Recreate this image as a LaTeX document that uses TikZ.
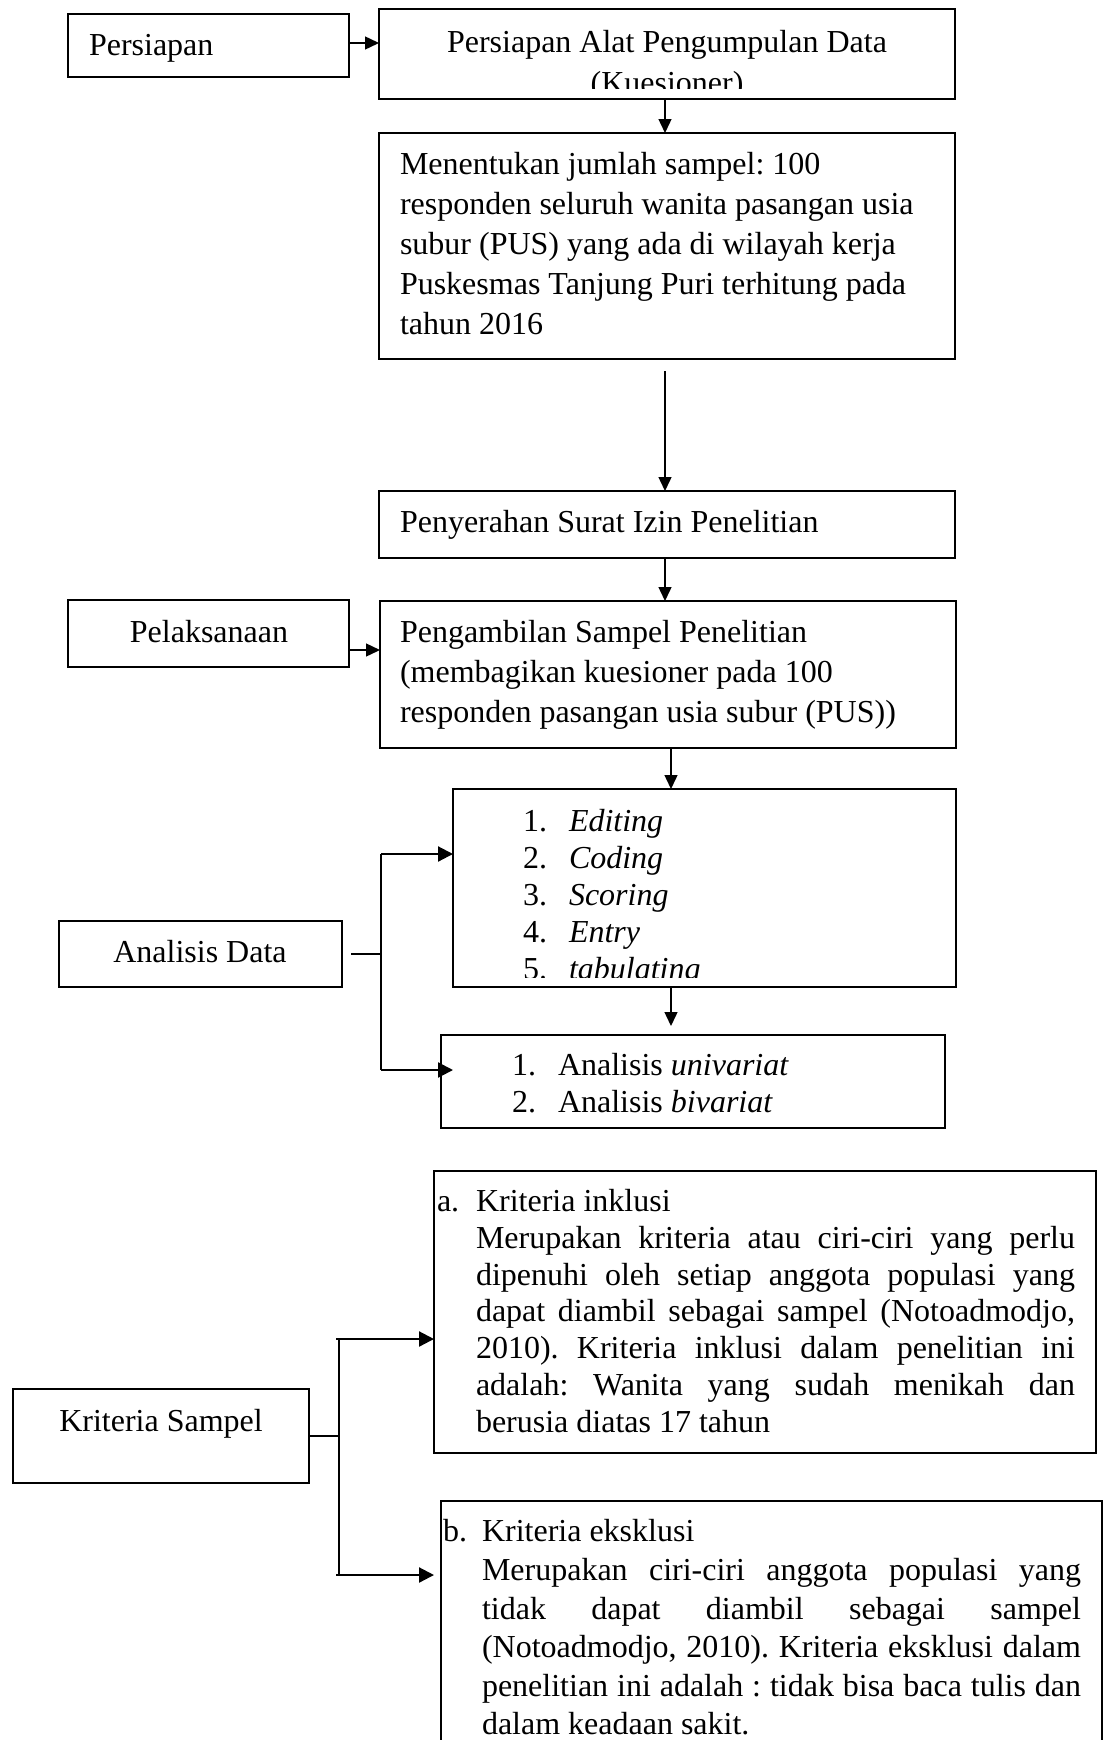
\documentclass[tikz,border=0pt]{standalone}
\usepackage{fontspec}
\setmainfont{Liberation Serif}
\usetikzlibrary{arrows.meta}
\frenchspacing
\tikzset{
 box/.style={draw, line width=0.65pt, inner sep=0pt, outer sep=0pt, anchor=north west},
 txt/.style={inner sep=0pt, outer sep=0pt, anchor=base west},
 ctxt/.style={inner sep=0pt, outer sep=0pt, anchor=base},
 conn/.style={line width=0.7pt},
 arr/.style={conn, -{Triangle[length=7pt,width=6.5pt]}},
 tarr/.style={line width=1.1pt, -{Triangle[length=7.5pt,width=7.5pt]}},
}
\newcommand{\bx}[5]{\node[box, minimum width={(#4-#2)*0.5pt}, minimum height={(#5-#3)*0.5pt}] (#1) at (#2,#3) {};}
\newcommand{\jline}[1]{\makebox[299.5pt][s]{#1}}
\begin{document}
\begin{tikzpicture}[x=0.5pt, y=-0.5pt, font=\fontsize{16}{20}\selectfont\frenchspacing]
\clip (0,0) rectangle (1108,1740);
\fill[white] (0,0) rectangle (1108,1740);

% boxes
\bx{pers}{68}{14}{349}{77}
\bx{alat}{379}{9}{955}{99}
\bx{men}{379}{133}{955}{359}
\bx{pen}{379}{491}{955}{558}
\bx{pel}{68}{600}{349}{667}
\bx{peng}{380}{601}{956}{748}
\bx{edit}{453}{789}{956}{987}
\bx{ad}{59}{921}{342}{987}
\bx{univ}{441}{1035}{945}{1128}
\bx{ks}{13}{1389}{309}{1483}
\bx{inkl}{434}{1171}{1096}{1453}
\bx{eks}{441}{1501}{1102}{1770}

% texts
\node[txt] (tpers) at (89,55) {Persiapan};
\begin{scope}
\clip (379,9) rectangle (955,88);
\node[ctxt] (talat1) at (667,52) {Persiapan Alat Pengumpulan Data};
\node[ctxt] (talat2) at (667,93) {(Kuesioner)};
\end{scope}

\node[txt] (tmen1) at (400,174) {Menentukan jumlah sampel: 100};
\node[txt] (tmen2) at (400,214) {responden seluruh wanita pasangan usia};
\node[txt] (tmen3) at (400,254) {subur (PUS) yang ada di wilayah kerja};
\node[txt] (tmen4) at (400,294) {Puskesmas Tanjung Puri terhitung pada};
\node[txt] (tmen5) at (400,334) {tahun 2016};

\node[txt] (tpen) at (400,532) {Penyerahan Surat Izin Penelitian};

\node[ctxt] (tpel) at (209,642) {Pelaksanaan};
\node[txt] (tpeng1) at (400,642) {Pengambilan Sampel Penelitian};
\node[txt] (tpeng2) at (400,682) {(membagikan kuesioner pada 100};
\node[txt] (tpeng3) at (400,722) {responden pasangan usia subur (PUS))};

\begin{scope}
\clip (453,789) rectangle (956,977);
\node[txt] (n1) at (523,831) {1.};
\node[txt] (e1) at (569,831) {\textit{Editing}};
\node[txt] (n2) at (523,868) {2.};
\node[txt] (e2) at (569,868) {\textit{Coding}};
\node[txt] (n3) at (523,905) {3.};
\node[txt] (e3) at (569,905) {\textit{Scoring}};
\node[txt] (n4) at (523,942) {4.};
\node[txt] (e4) at (569,942) {\textit{Entry}};
\node[txt] (n5) at (523,979) {5.};
\node[txt] (e5) at (569,979) {\textit{tabulating}};
\end{scope}

\node[ctxt] (tad) at (200,962) {Analisis Data};
\node[txt] (u1) at (512,1075) {1.};
\node[txt] (v1) at (558,1075) {Analisis \textit{univariat}};
\node[txt] (u2) at (512,1112) {2.};
\node[txt] (v2) at (558,1112) {Analisis \textit{bivariat}};

\node[ctxt] (tks) at (161,1431) {Kriteria Sampel};

\node[txt] (ia) at (437,1211) {a.};
\node[txt] (i1) at (476,1211) {Kriteria inklusi};
\node[txt] (i2) at (476,1248) {\jline{Merupakan kriteria atau ciri-ciri yang perlu}};
\node[txt] (i3) at (476,1285) {\jline{dipenuhi oleh setiap anggota populasi yang}};
\node[txt] (i4) at (476,1321) {\jline{dapat diambil sebagai sampel (Notoadmodjo,}};
\node[txt] (i5) at (476,1358) {\jline{2010). Kriteria inklusi dalam penelitian ini}};
\node[txt] (i6) at (476,1395) {\jline{adalah: Wanita yang sudah menikah dan}};
\node[txt] (i7) at (476,1432) {berusia diatas 17 tahun};

\node[txt] (xb) at (443,1541) {b.};
\node[txt] (x1) at (482,1541) {Kriteria eksklusi};
\node[txt] (x2) at (482,1580) {\jline{Merupakan ciri-ciri anggota populasi yang}};
\node[txt] (x3) at (482,1619) {\jline{tidak dapat diambil sebagai sampel}};
\node[txt] (x4) at (482,1657) {\jline{(Notoadmodjo, 2010). Kriteria eksklusi dalam}};
\node[txt] (x5) at (482,1696) {\jline{penelitian ini adalah : tidak bisa baca tulis dan}};
\node[txt] (x6) at (482,1734) {dalam keadaan sakit.};

% connectors
\coordinate (colA) at (665,0);
\coordinate (colB) at (671,0);
\draw[arr] ([yshift=1.25pt]pers.east) -- ([yshift=1.25pt]pers.east -| alat.west);
\draw[arr] (alat.south -| colA) -- (men.north -| colA);
\coordinate (gapA) at (665,371);
\draw[arr] (gapA) -- (gapA |- pen.north);
\draw[arr] (pen.south -| colA) -- (peng.north -| colA);
\draw[arr] ([yshift=-8.25pt]pel.east) -- ([yshift=-8.25pt]pel.east -| peng.west);
\draw[arr] (peng.south -| colB) -- (edit.north -| colB);
\coordinate (univtip) at (671,1026);
\draw[arr] (edit.south -| colB) -- (univtip);

\coordinate (adA) at (381,854);
\coordinate (adB) at (381,1070);
\draw[conn] ([xshift=4.5pt]ad.east) -- (ad.east -| adA);
\draw[conn] (adA) -- (adB);
\draw[tarr] (adA) -- (adA -| edit.west);
\draw[tarr] (adB) -- (adB -| edit.west);

\coordinate (ksA) at (339,1339);
\coordinate (ksB) at (339,1575);
\draw[conn] (ks.east) -- (ks.east -| ksA);
\draw[conn] (ksA) -- (ksB);
\draw[tarr] ([xshift=-1.5pt]ksA) -- (ksA -| inkl.west);
\draw[tarr] ([xshift=-1.5pt]ksB) -- (ksB -| inkl.west);
\end{tikzpicture}
\end{document}
